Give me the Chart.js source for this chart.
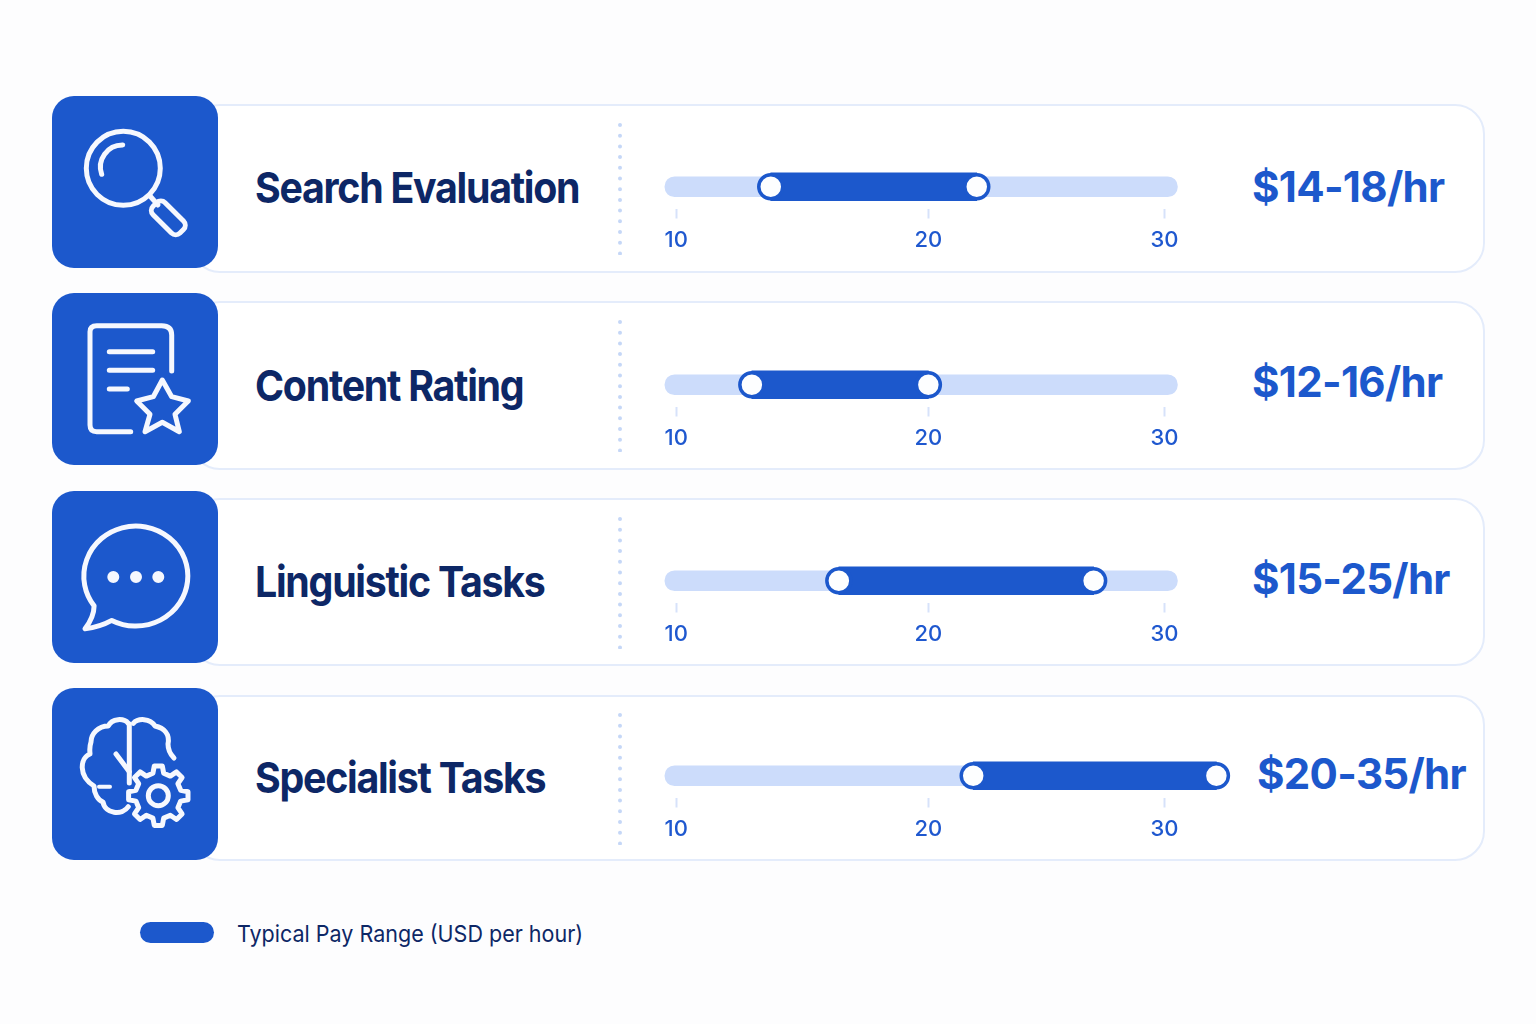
<!DOCTYPE html>
<html>
<head>
<meta charset="utf-8">
<title>Typical Pay Range</title>
<script src="https://cdn.jsdelivr.net/npm/chart.js@4/dist/chart.umd.js"></script>
<style>
  html, body { margin: 0; padding: 0; background: #fdfdfe; }
  body { position: relative; width: 1536px; height: 1024px; overflow: hidden; font-family: Inter, sans-serif; }
  .card { position: absolute; left: 190px; width: 1295px; box-sizing: border-box; background: #fff; border: 2px solid #e4ecfb; border-radius: 30px; }
  .tile { position: absolute; left: 52px; width: 166px; height: 172px; background: #1c58cc; border-radius: 22px; }
  .tile svg { width: 100%; height: 100%; display: block; fill: none; stroke: #f6f8fe; stroke-width: 5; stroke-linecap: round; stroke-linejoin: round; }
  .dots { position: absolute; left: 617px; width: 6px; height: 132px; }
  .name { position: absolute; left: 255px; font-size: 43px; font-weight: 700; color: #0d2766; letter-spacing: -1.4px; line-height: 50px; white-space: nowrap; transform: scaleX(0.915); transform-origin: left center; }
  .pay { position: absolute; font-size: 42px; font-weight: 700; color: #1c58cc; line-height: 50px; letter-spacing: -0.7px; white-space: nowrap; }
  .plot { position: absolute; left: 651px; width: 589px; height: 87px; }
  #legendPill { position: absolute; left: 140px; top: 922px; width: 74px; height: 21px; background: #1c58cc; border-radius: 11px; }
  #legendText { position: absolute; left: 237px; top: 919px; font-size: 23px; line-height: 30px; color: #0d2766; white-space: nowrap; transform: scaleX(0.935); transform-origin: left center; }
</style>
</head>
<body>
<div id="legendPill"></div>
<div id="legendText"></div>
<script>
const categories = ['Search Evaluation', 'Content Rating', 'Linguistic Tasks', 'Specialist Tasks'];
const payLabels = ['$14-18/hr', '$12-16/hr', '$15-25/hr', '$20-35/hr'];
// where the bars sit on the axis in the picture, not what the labels say
const rangeLow = [13.75, 13.0, 16.45, 21.9];
const rangeHigh = [22.05, 20.0, 27.0, 32.2];
const trackRange = [9.55, 30.55];
const axisTicks = [10, 20, 30];
const legendLabel = 'Typical Pay Range (USD per hour)';

// page layout per row
const cardTop = [104, 301, 498, 695];
const cardHeight = [169, 169, 168, 166];
const tileTop = [96, 293, 491, 688];
const dotsTop = [123, 320, 517, 713];
const nameCenter = [187, 385, 581, 777];
const payCenter = [187, 382, 579, 774];
const payLeft = [1252, 1252, 1252, 1257];
const barCenter = [186, 383.5, 579.5, 775];

const BLUE = '#1c58cc';
const TICK_BLUE = '#1f58cf';

function gearPath(cx, cy, outer, inner, teeth) {
  const pts = [];
  const step = Math.PI * 2 / teeth;
  for (let t = 0; t < teeth; t++) {
    const a = t * step - Math.PI / 2;
    [[inner, -0.3], [outer, -0.17], [outer, 0.17], [inner, 0.3]].forEach(([r, f]) => {
      pts.push((cx + r * Math.cos(a + f * step)).toFixed(1) + ' ' + (cy + r * Math.sin(a + f * step)).toFixed(1));
    });
  }
  return 'M' + pts.join('L') + 'Z';
}

const icons = [
  `<circle cx="71.3" cy="72.3" r="37"/>
   <path d="M49.7 78.3A22 22 0 0 1 70.7 49"/>
   <path d="M98 100L106 109"/>
   <rect x="97" y="113.5" width="38" height="17" rx="6" transform="rotate(45 116.3 122.3)"/>`,
  `<path d="M119.7 78V42Q119.7 32.7 109.7 32.7H44.7Q38 32.7 38 38.7V132Q38 138.7 44.7 138.7H78.7"/>
   <path d="M57.3 58.7H100.7M57.3 77.3H100.7M57.3 96H75.3"/>
   <path d="M110.3 87L119.7 103.7L136.3 108L123 121.3L127.3 138.7L110.3 129.3L93 138.7L98 121.3L84.7 108L101.3 103.7Z"/>`,
  `<path d="M59.8 129.4A52 50 0 1 0 42.1 114.9Q42 126 33 137.7Q48 136 59.8 129.4Z"/>
   <circle cx="61.3" cy="86" r="3.5" fill="#f6f8fe"/><circle cx="84" cy="86" r="3.5" fill="#f6f8fe"/><circle cx="106.3" cy="86" r="3.5" fill="#f6f8fe"/>`,
  `<path d="M77.3 36V95"/>
   <path d="M76.3 35.3C72 30 60 30 56.3 38C46 38 39 46 39 54C37 60 38 64 38 66C28 70 26 88 42 98C42 106 46 112 51 114C53 126 70 128 76.3 118.7"/>
   <path d="M81.3 35.3C86 30 98 30 103 38C112 40 118 46 116 56C116 62 118 66 122 70"/>
   <path d="M64 66L77.3 83.7"/>
   <path d="M47 98.7H58" stroke-width="4"/>
   <path d="${gearPath(106.3, 107.7, 30, 23, 8)}" fill="#1c58cc"/>
   <circle cx="106.3" cy="107.7" r="10"/>`
];

document.getElementById('legendText').textContent = legendLabel;

// axis is a bit wider on the 10-20 side than the 20-30 side in the picture
class SplitLinearScale extends Chart.LinearScale {
  static id = 'splitLinear';
  static defaults = Chart.LinearScale.defaults;
  getPixelForValue(value) {
    const mid = 0.4709;
    const d = value <= 20
      ? (value - this.min) / (20 - this.min) * mid
      : mid + (value - 20) / (this.max - 20) * (1 - mid);
    return this.getPixelForDecimal(d);
  }
}
Chart.register(SplitLinearScale);

function addDiv(cls, top, extra) {
  const el = document.createElement('div');
  el.className = cls;
  el.style.top = top + 'px';
  if (extra) el.style.height = extra + 'px';
  document.body.appendChild(el);
  return el;
}

categories.forEach((name, i) => {
  addDiv('card', cardTop[i], cardHeight[i]);
  addDiv('tile', tileTop[i]).innerHTML = `<svg viewBox="0 0 166 172">${icons[i]}</svg>`;
  addDiv('dots', dotsTop[i]).innerHTML =
    '<svg width="6" height="132"><line x1="3" y1="2" x2="3" y2="131" stroke="#c5d7f7" stroke-width="4" stroke-linecap="round" stroke-dasharray="0 10.7"/></svg>';
  addDiv('name', nameCenter[i] - 25).textContent = name;
  const pay = addDiv('pay', payCenter[i] - 25);
  pay.textContent = payLabels[i];
  pay.style.left = payLeft[i] + 'px';

  const plot = addDiv('plot', barCenter[i] - 21);
  const canvas = document.createElement('canvas');
  plot.appendChild(canvas);

  new Chart(canvas, {
    type: 'bar',
    data: {
      labels: [name],
      datasets: [
        {
          type: 'scatter',
          indexAxis: 'x',
          data: [{ x: rangeLow[i], y: name }, { x: rangeHigh[i], y: name }],
          pointRadius: 12,
          pointBackgroundColor: '#fdfeff',
          pointBorderColor: BLUE,
          pointBorderWidth: 3.5,
          clip: false,
          order: 0
        },
        {
          data: [[rangeLow[i], rangeHigh[i]]],
          backgroundColor: BLUE,
          barThickness: 28,
          order: 1
        },
        {
          data: [trackRange],
          backgroundColor: '#ccdcfb',
          barThickness: 20,
          borderRadius: 10,
          borderSkipped: false,
          order: 2
        }
      ]
    },
    options: {
      indexAxis: 'y',
      responsive: true,
      maintainAspectRatio: false,
      animation: false,
      datasets: { bar: { grouped: false } },
      layout: { padding: 0, autoPadding: false },
      plugins: { legend: { display: false }, tooltip: { enabled: false } },
      scales: {
        y: { type: 'category', display: false },
        x: {
          type: 'splitLinear',
          min: 9,
          max: 33.2,
          afterBuildTicks: axis => { axis.ticks = axisTicks.map(value => ({ value })); },
          border: { display: false },
          grid: { drawOnChartArea: false, drawTicks: true, tickLength: 10, tickWidth: 2, color: '#d7e2fa' },
          ticks: {
            autoSkip: false,
            maxRotation: 0,
            padding: 9,
            color: TICK_BLUE,
            font: { family: 'Inter', size: 22, weight: '500' },
            callback: v => String(v)
          }
        }
      }
    }
  });
});
</script>
</body>
</html>
